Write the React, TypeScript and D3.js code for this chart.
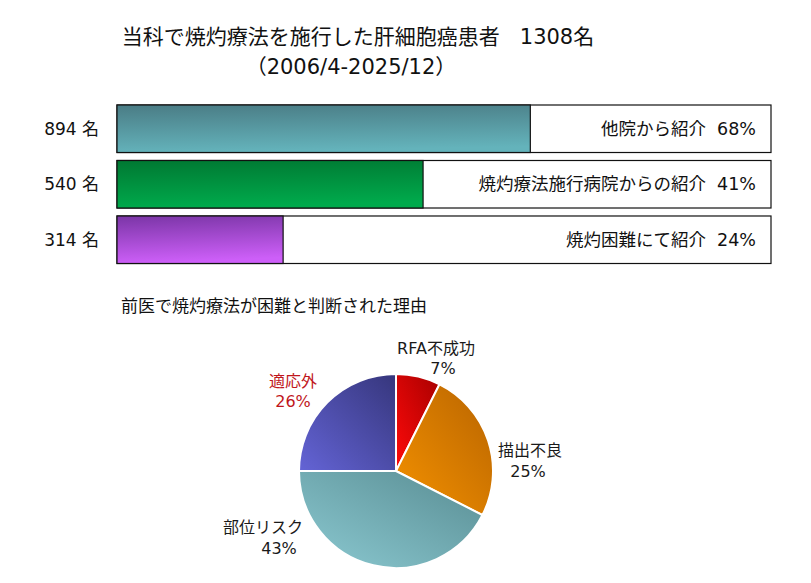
import React, { useEffect, useRef } from "react";
import * as d3 from "d3";

// referral breakdown (bars)
const counts = ["894 名", "540 名", "314 名"];
const referralLabels = ["他院から紹介", "焼灼療法施行病院からの紹介", "焼灼困難にて紹介"];
const referralPct = ["68%", "41%", "24%"];
const barFill = [0.632, 0.468, 0.254]; // filled share of each bar

// reasons judged difficult (pie)
const reasons = ["RFA不成功", "描出不良", "部位リスク", "適応外"];
const reasonPct = ["7%", "25%", "43%", "26%"];
const reasonShare = [7.4, 25.1, 42.5, 25.0];

const FONT = "'DejaVu Sans', 'Noto Sans CJK JP', sans-serif";

const App = () => {
  const svgRef = useRef<SVGSVGElement>(null);

  useEffect(() => {
    if (!svgRef.current) return;
    const svg = d3.select(svgRef.current);
    svg.selectAll("*").remove();

    const W = 811;
    const H = 583;
    svg.attr("width", W).attr("height", H).style("font-family", FONT);

    svg.append("rect").attr("width", W).attr("height", H).attr("fill", "#ffffff");

    const defs = svg.append("defs");
    const vGrad = (id: string, top: string, bottom: string) => {
      const g = defs
        .append("linearGradient")
        .attr("id", id)
        .attr("x1", 0)
        .attr("y1", 0)
        .attr("x2", 0.15)
        .attr("y2", 1);
      g.append("stop").attr("offset", "0%").attr("stop-color", top);
      g.append("stop").attr("offset", "100%").attr("stop-color", bottom);
    };
    vGrad("bar0", "#4a7c85", "#64b3bb");
    vGrad("bar1", "#007832", "#00aa4c");
    vGrad("bar2", "#7a35a6", "#cd5ff8");

    const dGrad = (id: string, dark: string, light: string) => {
      const g = defs
        .append("linearGradient")
        .attr("id", id)
        .attr("x1", 1)
        .attr("y1", 0)
        .attr("x2", 0)
        .attr("y2", 1);
      g.append("stop").attr("offset", "0%").attr("stop-color", dark);
      g.append("stop").attr("offset", "100%").attr("stop-color", light);
    };
    dGrad("pie0", "#a80000", "#ff0a0a");
    dGrad("pie1", "#b86400", "#f59200");
    dGrad("pie2", "#588c92", "#8ccad2");
    dGrad("pie3", "#36367c", "#6464d6");

    // Title
    const title = svg
      .append("text")
      .attr("text-anchor", "middle")
      .attr("fill", "#111")
      .style("font-size", "21px");
    title
      .append("tspan")
      .attr("x", 358)
      .attr("y", 44)
      .text("当科で焼灼療法を施行した肝細胞癌患者\u00a0\u00a0\u00a01308名");
    title.append("tspan").attr("x", 351).attr("y", 74).text("（2006/4-2025/12）");

    // Bars
    const x = d3.scaleLinear().domain([0, 1]).range([117, 771]);
    const y = d3
      .scaleBand<number>()
      .domain(d3.range(counts.length))
      .range([105, 263.5])
      .paddingInner(0.144)
      .paddingOuter(0);

    const rows = svg
      .selectAll("g.row")
      .data(d3.range(counts.length))
      .enter()
      .append("g")
      .attr("class", "row");

    rows
      .append("rect")
      .attr("x", x(0))
      .attr("y", (i) => y(i)!)
      .attr("width", x(1) - x(0))
      .attr("height", y.bandwidth())
      .attr("fill", "#fff")
      .attr("stroke", "#111")
      .attr("stroke-width", 1.2);

    rows
      .append("rect")
      .attr("x", x(0))
      .attr("y", (i) => y(i)!)
      .attr("width", (i) => x(barFill[i]) - x(0))
      .attr("height", y.bandwidth())
      .attr("fill", (i) => `url(#bar${i})`)
      .attr("stroke", "#111")
      .attr("stroke-width", 1.2);

    rows
      .append("text")
      .attr("x", 99)
      .attr("y", (i) => y(i)! + y.bandwidth() / 2)
      .attr("dy", "0.35em")
      .attr("text-anchor", "end")
      .attr("fill", "#111")
      .style("font-size", "17px")
      .text((i) => counts[i]);

    rows
      .append("text")
      .attr("x", 756)
      .attr("y", (i) => y(i)! + y.bandwidth() / 2)
      .attr("dy", "0.35em")
      .attr("text-anchor", "end")
      .attr("fill", "#111")
      .style("font-size", "17.5px")
      .text((i) => `${referralLabels[i]}\u00a0\u00a0${referralPct[i]}`);

    // Pie subtitle
    svg
      .append("text")
      .attr("x", 121)
      .attr("y", 306)
      .attr("dy", "0.35em")
      .attr("fill", "#111")
      .style("font-size", "17px")
      .text("前医で焼灼療法が困難と判断された理由");

    // Pie
    const cx = 396;
    const cy = 471;
    const r = 97;
    const pie = d3
      .pie<number>()
      .sort(null)
      .value((d) => d);
    const arcs = pie(reasonShare);
    const arc = d3.arc<d3.PieArcDatum<number>>().innerRadius(0).outerRadius(r);

    const pg = svg.append("g").attr("transform", `translate(${cx},${cy})`);
    pg.selectAll("path")
      .data(arcs)
      .enter()
      .append("path")
      .attr("d", arc)
      .attr("fill", (_, i) => `url(#pie${i})`)
      .attr("stroke", "#fff")
      .attr("stroke-width", 2);

    // label anchors relative to pie centre: [name dx, name dy, pct dx, pct dy]
    const labelLayout = [
      [40, -123, 47, -103],
      [134, -21, 132, 0],
      [-133, 56, -117, 77],
      [-103, -90, -103, -70],
    ];
    const labels = pg
      .selectAll("g.lbl")
      .data(arcs)
      .enter()
      .append("g")
      .attr("class", "lbl")
      .attr("fill", (_, i) => (i === 3 ? "#c0161c" : "#1a1a1a"))
      .style("font-size", "16px")
      .attr("text-anchor", "middle");
    labels
      .append("text")
      .attr("x", (_, i) => labelLayout[i][0])
      .attr("y", (_, i) => labelLayout[i][1])
      .attr("dy", "0.35em")
      .text((_, i) => reasons[i]);
    labels
      .append("text")
      .attr("x", (_, i) => labelLayout[i][2])
      .attr("y", (_, i) => labelLayout[i][3])
      .attr("dy", "0.35em")
      .text((_, i) => reasonPct[i]);
  }, []);

  return (
    <div style={{ position: "absolute", left: 0, top: 0 }}>
      <svg ref={svgRef} style={{ display: "block" }}></svg>
    </div>
  );
};

export default App;
